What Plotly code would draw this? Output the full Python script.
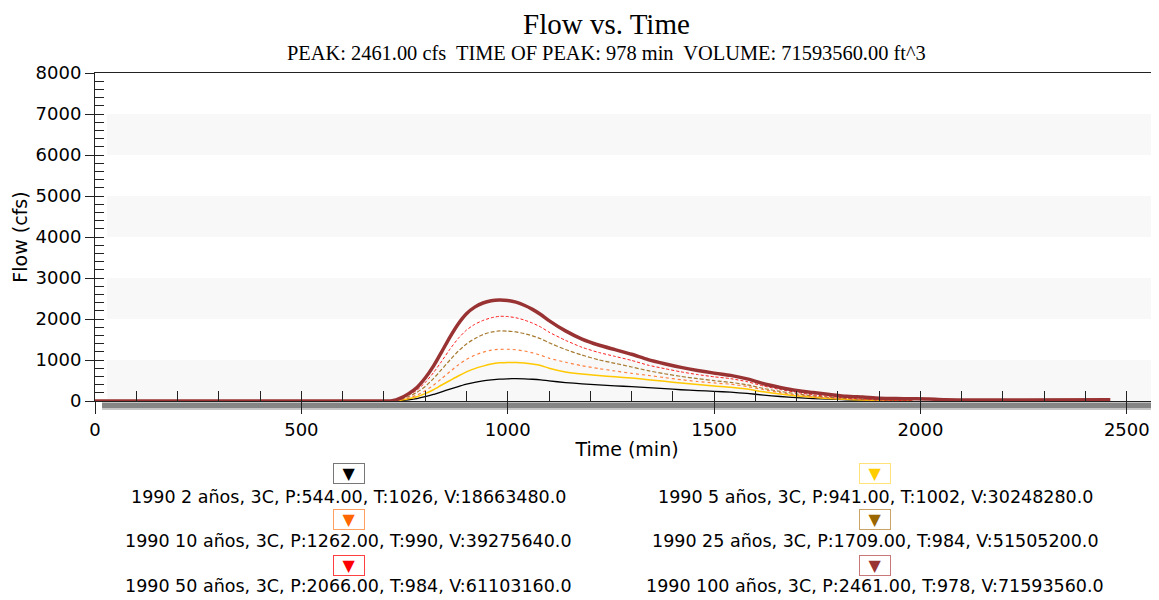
import plotly.graph_objects as go

# ---------------- data ----------------
time_min = [0, 700, 720, 740, 760, 780, 800, 820, 840, 860,
            880, 900, 920, 940, 960, 980, 1000, 1020, 1040, 1060,
            1080, 1100, 1140, 1180, 1220, 1260, 1300, 1340, 1380, 1420,
            1460, 1500, 1540, 1580, 1620, 1660, 1700, 1740, 1780, 1820,
            1860, 1900, 1940, 1980]

flow_2 = [0, 0, 0, 10, 30, 60, 105, 160, 225, 290,
          350, 410, 455, 490, 515, 535, 542, 544, 540, 530,
          515, 490, 450, 418, 392, 370, 350, 325, 300, 275,
          255, 235, 215, 185, 145, 110, 80, 60, 45, 30,
          20, 12, 5, 0]
flow_5 = [0, 0, 1, 20, 55, 105, 180, 275, 390, 500,
          610, 710, 790, 850, 900, 930, 941, 938, 925, 900,
          865, 800, 710, 658, 622, 590, 560, 520, 480, 440,
          400, 365, 335, 290, 225, 170, 125, 90, 62, 40,
          25, 15, 7, 2]
flow_10 = [0, 0, 1, 28, 75, 145, 250, 385, 550, 715,
           880, 1015, 1115, 1190, 1240, 1260, 1262, 1250, 1220, 1175,
           1115, 1045, 945, 860, 792, 732, 675, 625, 570, 520,
           475, 440, 410, 355, 275, 205, 150, 105, 75, 50,
           32, 20, 10, 3]
flow_25 = [0, 0, 2, 40, 110, 210, 355, 545, 770, 1000,
           1215, 1390, 1520, 1620, 1680, 1709, 1705, 1685, 1645, 1590,
           1520, 1420, 1255, 1120, 1005, 918, 830, 740, 665, 600,
           545, 495, 455, 395, 305, 235, 175, 125, 90, 60,
           40, 25, 12, 4]
flow_50 = [0, 0, 3, 55, 145, 265, 450, 690, 970, 1265,
           1525, 1730, 1870, 1965, 2030, 2066, 2060, 2030, 1975, 1900,
           1805, 1680, 1480, 1310, 1185, 1088, 990, 875, 790, 710,
           645, 590, 545, 470, 365, 280, 210, 150, 110, 75,
           50, 30, 15, 5]
time_100 = time_min + [2020, 2060, 2460]
flow_100 = [0, 0, 5, 70, 180, 330, 560, 850, 1200, 1560,
            1880, 2130, 2290, 2390, 2445, 2461, 2450, 2410, 2335, 2235,
            2110, 1960, 1710, 1510, 1365, 1252, 1140, 1010, 910, 820,
            745, 680, 625, 540, 420, 330, 255, 205, 160, 115,
            95, 70, 60, 55, 50, 30, 28]

legend_labels = [
    "1990 2 años, 3C, P:544.00, T:1026, V:18663480.0",
    "1990 5 años, 3C, P:941.00, T:1002, V:30248280.0",
    "1990 10 años, 3C, P:1262.00, T:990, V:39275640.0",
    "1990 25 años, 3C, P:1709.00, T:984, V:51505200.0",
    "1990 50 años, 3C, P:2066.00, T:984, V:61103160.0",
    "1990 100 años, 3C, P:2461.00, T:978, V:71593560.0",
]
title_text = "Flow vs. Time"
subtitle_text = "PEAK: 2461.00 cfs  TIME OF PEAK: 978 min  VOLUME: 71593560.00 ft^3"

# ---------------- styles ----------------
series = [
    (time_min, flow_2, "#000000", 1.3, "solid", "#000000", "#777777"),
    (time_min, flow_5, "#FFC800", 1.5, "solid", "#FFCC00", "#FFE27A"),
    (time_min, flow_10, "#FF8040", 1.2, "dot", "#FF6600", "#FFA060"),
    (time_min, flow_25, "#A87A30", 1.2, "4px,2px", "#996600", "#C8A468"),
    (time_min, flow_50, "#FF2020", 1.0, "3px,2px", "#FF0000", "#FF4040"),
    (time_100, flow_100, "#993333", 3.5, "solid", "#993333", "#C87878"),
]

# the page adds an 8px body margin, so the figure is placed at (8, 8)
OFF = 8
W, H = 1159 - OFF, 600 - OFF
L, T, B = 95 - OFF, 73 - OFF, 401 - OFF
PW, PH = W - L, B - T
XMAX = 2578


def px_to_paper_x(px):
    return (px - OFF - L) / PW


def py_to_paper_y(py):
    return (B - (py - OFF)) / PH


fig = go.Figure()
for (tx, fy, col, wd, dash, _, _) in series:
    fig.add_trace(go.Scatter(x=tx, y=fy, mode="lines",
                             line=dict(color=col, width=wd, dash=dash,
                                       shape="spline", smoothing=0.6),
                             showlegend=False, hoverinfo="skip"))

# invisible trace to anchor overlay axes
fig.add_trace(go.Scatter(x=[0], y=[0], xaxis="x2", yaxis="y2", mode="markers",
                         marker=dict(opacity=0), showlegend=False, hoverinfo="skip"))

shapes = []
for y0 in [0, 2000, 4000, 6000]:
    shapes.append(dict(type="rect", xref="x", yref="y", x0=29, x1=XMAX, y0=y0, y1=y0 + 1000,
                       fillcolor="#f8f8f8", line=dict(width=0), layer="below"))
# shadow under x axis
shapes.append(dict(type="rect", xref="x", yref="paper", x0=17, x1=XMAX,
                   y0=-1.5 / PH, y1=-7.5 / PH, fillcolor="#858585",
                   line=dict(width=0), layer="below"))
shapes.append(dict(type="rect", xref="x", yref="paper", x0=17, x1=XMAX,
                   y0=-7.5 / PH, y1=-9.0 / PH, fillcolor="#c8c8c8",
                   line=dict(width=0), layer="below"))

annotations = [
    dict(text=title_text, xref="paper", yref="paper",
         x=px_to_paper_x(606), y=py_to_paper_y(24), showarrow=False,
         xanchor="center", yanchor="middle",
         font=dict(family="Liberation Serif", size=29, color="#000")),
    dict(text=subtitle_text, xref="paper", yref="paper",
         x=px_to_paper_x(606.5), y=py_to_paper_y(53), showarrow=False,
         xanchor="center", yanchor="middle",
         font=dict(family="Liberation Serif", size=20.4, color="#000")),
]

col_x = [348.5, 875.3]
box_y = [473.8, 519.3, 565.0]
text_y = [496.7, 541.0, 585.7]
for i, lab in enumerate(legend_labels):
    c = i % 2
    r = i // 2
    tri_col, border_col = series[i][5], series[i][6]
    annotations.append(dict(text="▼", xref="paper", yref="paper",
                            x=px_to_paper_x(col_x[c]), y=py_to_paper_y(box_y[r]),
                            showarrow=False, xanchor="center", yanchor="middle",
                            width=30, height=19, borderpad=0, borderwidth=1,
                            bordercolor=border_col, bgcolor="#ffffff",
                            font=dict(family="DejaVu Sans", size=16, color=tri_col)))
    annotations.append(dict(text=lab, xref="paper", yref="paper",
                            x=px_to_paper_x(col_x[c]), y=py_to_paper_y(text_y[r]),
                            showarrow=False, xanchor="center", yanchor="middle",
                            font=dict(family="DejaVu Sans", size=17.5, color="#000")))

tick_font = dict(family="DejaVu Sans", size=18, color="#000")
title_font = dict(family="DejaVu Sans", size=19, color="#000")

fig.update_layout(
    width=W, height=H,
    margin=dict(l=L, r=0, t=T, b=H - B, pad=0),
    paper_bgcolor="white", plot_bgcolor="white",
    xaxis=dict(range=[0, XMAX], tickmode="linear", tick0=0, dtick=500,
               ticks="outside", ticklen=12, tickwidth=1, tickcolor="#222",
               showline=True, linecolor="#222", linewidth=1, mirror=True,
               showgrid=False, zeroline=False, tickfont=tick_font,
               title=dict(text="Time (min)", font=title_font, standoff=4)),
    xaxis2=dict(range=[0, XMAX], overlaying="x", anchor="y", side="bottom",
                tickmode="linear", tick0=0, dtick=100, ticks="inside", ticklen=10,
                tickwidth=1, tickcolor="#222", showticklabels=False,
                showline=False, showgrid=False, zeroline=False),
    yaxis=dict(range=[0, 8000], tickmode="linear", tick0=0, dtick=1000,
               ticks="outside", ticklen=9, tickwidth=1, tickcolor="#222",
               showline=True, linecolor="#222", linewidth=1,
               showgrid=False, zeroline=False, tickfont=tick_font,
               title=dict(text="Flow (cfs)", font=title_font, standoff=2)),
    yaxis2=dict(range=[0, 8000], overlaying="y", anchor="x", side="left",
                tickmode="linear", tick0=0, dtick=200, ticks="inside", ticklen=9,
                tickwidth=1, tickcolor="#222", showticklabels=False,
                showline=False, showgrid=False, zeroline=False),
    shapes=shapes,
    annotations=annotations,
    showlegend=False,
)

fig.write_html("out.html")
